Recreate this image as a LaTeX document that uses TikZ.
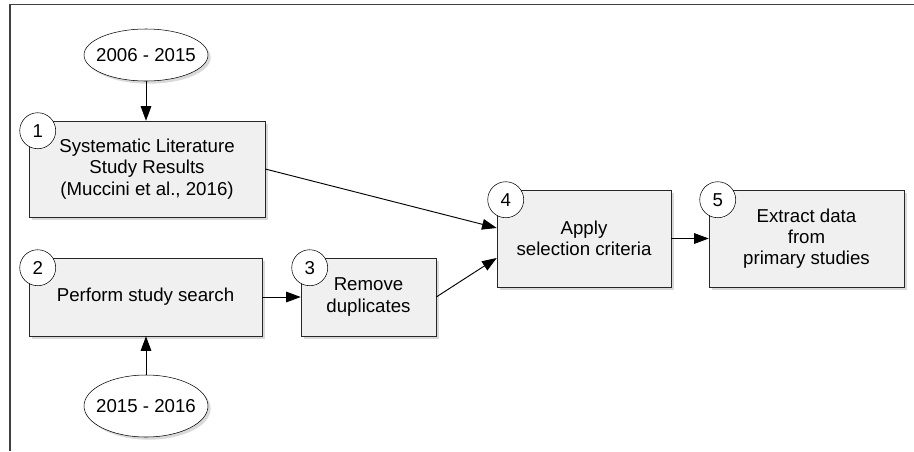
\documentclass[tikz,border=0pt]{standalone}
\usepackage{fontspec}
\setmainfont{Liberation Sans}
\usetikzlibrary{shapes.geometric,arrows.meta,shadows}

\begin{document}
\begin{tikzpicture}[x=0.75pt,y=-0.75pt,
        font=\fontsize{14}{16}\selectfont,
        stepbox/.style={draw=black!85, fill=black!6, align=center,
            drop shadow={shadow xshift=2pt,shadow yshift=-2pt,opacity=0.3}},
        period/.style={ellipse, draw, fill=white, minimum width=93pt,
            inner xsep=-6pt, inner ysep=2pt,
            drop shadow={shadow xshift=2pt,shadow yshift=-2pt,opacity=0.3}},
        num/.style={circle, draw, fill=white, minimum size=27pt, inner sep=0pt},
        link/.style={-{Triangle[length=11pt,width=8pt]}, line width=0.7pt}]
        \useasboundingbox (0,0) rectangle (914,451);
        \draw[line width=1.1pt, black!75] (914,4.5) -- (10,4.5) -- (10,451);

        % steps
        \node[stepbox, minimum width=177pt, minimum height=72pt] (box1) at (147,169)
            {Systematic Literature\\Study Results\\(Muccini et al., 2016)};
        \node[stepbox, minimum width=174.75pt, minimum height=58.5pt] (box2) at (145.5,297)
            {Perform study search};
        \node[stepbox, minimum width=101.25pt, minimum height=58.5pt] (box3) at (368.5,297)
            {Remove\\duplicates};
        \node[stepbox, minimum width=130.5pt, minimum height=72.75pt] (box4) at (584,238.5)
            {Apply\\selection criteria};
        \node[stepbox, minimum width=146.25pt, minimum height=72.75pt] (box5) at (806.5,238.5)
            {Extract data\\from\\primary studies};

        % periods
        \node[period, minimum height=39pt] (p1) at (146,55) {2006 - 2015};
        \node[period, minimum height=46.5pt] (p2) at (146,406) {2015 - 2016};

        \draw[link] (p1.south) -- (p1.south |- box1.north);
        \draw[link] (p2.north) -- (p2.north |- box2.south);
        \draw[link] (box2) -- (box3);
        \draw[link] (box1.east) -- ([yshift=7.9pt]box4.west);
        \draw[link] (box3.east) -- ([yshift=-14.6pt]box4.west);
        \draw[link] (box4) -- (box5);

        \foreach \n in {1,...,5}
            \node[num] (c\n) at ([xshift=6.75pt,yshift=-7.5pt]box\n.north west) {\n};
    \end{tikzpicture}
\end{document}
